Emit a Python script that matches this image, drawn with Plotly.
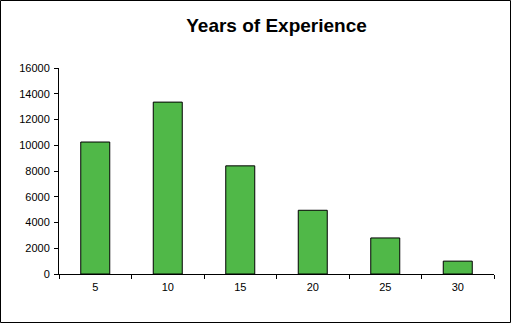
import plotly.graph_objects as go

categories = ["5", "10", "15", "20", "25", "30"]
values = [10250, 13350, 8400, 4950, 2800, 1000]
y_ticks = [0, 2000, 4000, 6000, 8000, 10000, 12000, 14000, 16000]

W, H = 511, 323
ML, MR, MT, MB = 59, 17, 68, 49
pw = W - ML - MR
ph = H - MT - MB

fig = go.Figure(go.Bar(
    x=categories, y=values,
    marker=dict(color="#50B848", line=dict(color="black", width=1)),
    width=0.4,
))

fig.update_layout(
    width=W, height=H,
    margin=dict(l=ML, r=MR, t=MT, b=MB, pad=0),
    paper_bgcolor="white", plot_bgcolor="white",
    showlegend=False,
    font=dict(family="Liberation Sans, Arial, sans-serif", size=11, color="black"),
    title=dict(text="<b>Years of Experience</b>", x=0.5, xref="paper", xanchor="center",
               y=1 - 25 / H, yref="container", yanchor="middle",
               font=dict(size=19, color="black", family="Liberation Sans, Arial, sans-serif")),
    xaxis=dict(type="category", showline=True, linecolor="black", linewidth=1,
               ticks="outside", tickson="boundaries", ticklen=4, tickcolor="black",
               showgrid=False, zeroline=False, fixedrange=True, ticklabelstandoff=3),
    yaxis=dict(range=[0, 16000], tickvals=y_ticks, showline=True, linecolor="black",
               linewidth=1, ticks="outside", ticklen=4, tickcolor="black",
               showgrid=False, zeroline=False, tickformat="d", ticklabelstandoff=2),
)

# chart border frame
fig.add_shape(type="rect", xref="paper", yref="paper",
              x0=(-ML + 0.5) / pw, x1=(pw + MR - 0.5) / pw,
              y0=(-MB + 0.5) / ph, y1=(ph + MT - 0.5) / ph,
              line=dict(color="black", width=1), fillcolor="rgba(0,0,0,0)", layer="above")

fig.write_html("out.html")
